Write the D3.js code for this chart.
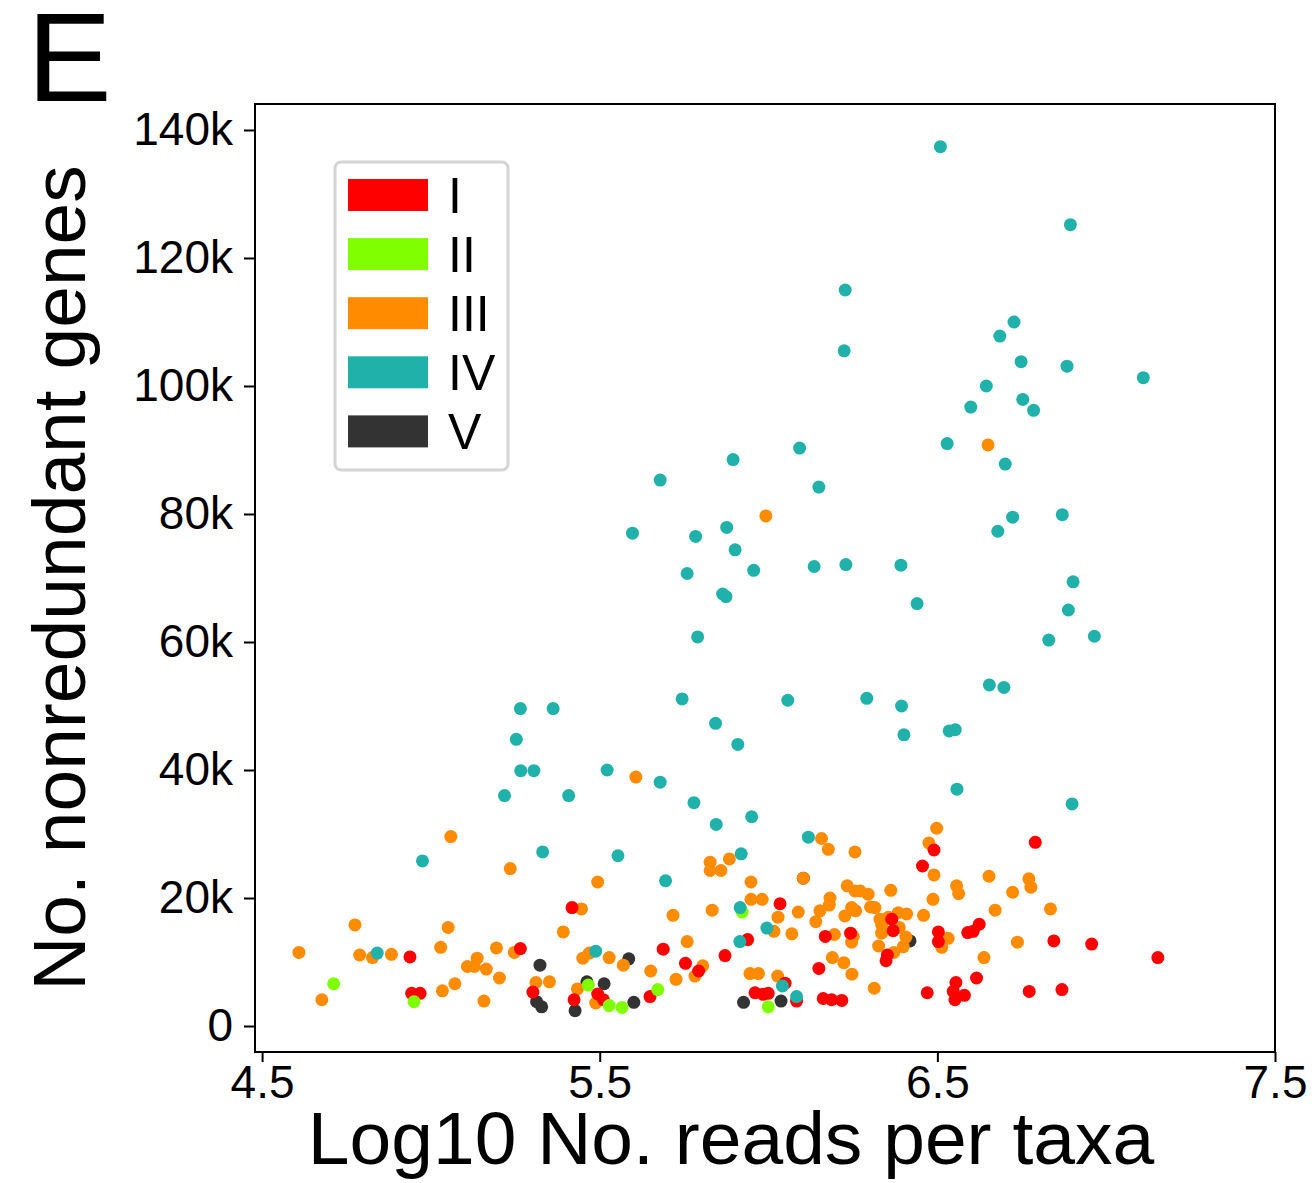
<!DOCTYPE html>
<html>
<head>
<meta charset="utf-8">
<script src="https://cdn.jsdelivr.net/npm/d3@7"></script>
<style>
  body { margin: 0; background: #fff; }
  svg text { font-family: "Liberation Sans", Arial, sans-serif; fill: #000; }
</style>
</head>
<body>
<svg id="chart" width="1316" height="1183"></svg>
<script>
// groups and colours
var groups = ["I", "II", "III", "IV", "V"];
var colors = ["#ff0000", "#7fff00", "#ff8c00", "#20b2aa", "#333333"];

// [log10 reads, nonredundant genes]
var groupI = [
  [5.418,18500],[4.938,10800],[5.265,12100],[4.943,5100],[4.968,5100],[5.302,5300],
  [5.424,4100],[5.494,5000],[5.511,4100],[6.490,27500],[6.456,25000],[6.034,19100],
  [6.365,16700],[6.369,14900],[6.168,14000],[6.243,14500],[6.352,11100],[6.348,10200],
  [6.503,14700],[6.503,13200],[5.938,13500],[5.688,12000],[5.871,11000],[5.754,9800],
  [5.793,8600],[6.149,9000],[6.049,6700],[5.649,4600],[5.960,5200],[5.984,4950],
  [5.999,5100],[6.083,3900],[6.162,4300],[6.187,4100],[6.217,4000],[6.470,5200],
  [6.790,28700],[6.590,14600],[6.606,14800],[6.624,15900],[6.845,13300],[6.957,12800],
  [7.153,10700],[6.616,7500],[6.555,6800],[6.547,5400],[6.580,4800],[6.552,4100],
  [6.772,5400],[6.869,5700]
];
var groupII = [
  [4.712,6600],[4.950,3800],[5.466,6400],[5.922,17800],[5.528,3200],[5.566,2900],
  [5.672,5700],[5.999,3000]
];
var groupIII = [
  [5.059,29600],[5.235,24600],[5.494,22500],[5.446,18300],[4.775,15800],[5.051,15400],
  [5.392,14700],[4.609,11500],[4.789,11100],[4.827,10700],[4.883,11200],[5.029,12300],
  [5.194,12200],[5.247,11500],[5.469,11400],[5.450,10600],[5.137,10600],[5.108,9300],
  [5.129,9300],[5.164,8900],[5.203,7500],[5.071,6600],[5.311,6800],[5.351,6900],
  [5.434,5800],[5.034,5500],[4.677,4100],[5.157,3900],[5.488,3600],
  [6.157,29300],[6.177,27600],[6.256,27200],[6.498,30900],[6.475,28600],[5.827,25600],
  [5.827,24300],[5.859,24300],[5.884,26100],[5.948,22500],[6.103,23100],[6.490,23600],
  [6.233,21900],[6.256,21100],[6.271,21100],[6.295,20600],[6.362,21200],[5.948,19800],
  [5.981,19800],[6.182,20000],[6.487,19800],[5.833,18100],[5.717,17300],[6.088,17800],
  [6.152,18000],[6.180,18900],[6.246,18500],[6.258,18000],[6.302,18600],[6.315,18500],
  [6.226,17200],[6.028,17000],[6.140,16300],[6.330,16700],[6.355,17000],[6.384,17700],
  [6.409,17500],[6.459,17300],[6.335,15800],[6.387,15400],[6.016,14800],[6.069,14400],
  [6.335,14500],[6.195,14300],[6.251,14000],[6.246,13100],[6.407,13900],[6.399,12400],
  [6.326,12500],[6.371,11500],[5.759,13200],[5.528,10700],[5.570,9500],[5.805,9400],
  [5.782,7800],[5.651,8600],[5.726,7300],[6.189,10700],[6.223,9900],[6.247,8100],
  [6.313,5900],[5.945,8200],[5.970,8200],[6.027,7800],[6.513,12300],
  [6.653,23400],[6.771,23000],[6.777,21700],[6.557,21900],[6.563,20700],[6.723,20900],
  [6.671,18100],[6.835,18300],[6.532,13700],[6.737,13100],[6.638,10700],
  [5.607,38900],[6.650,90800],[5.992,79700]
];
var groupIV = [
  [4.975,25800],[5.331,27200],[4.841,11400],[5.488,11700],[5.554,26600],[6.118,29500],
  [5.919,26900],[5.695,22700],[5.916,18500],[5.995,15300],[5.915,13200],[6.041,6250],
  [6.083,4600],[5.265,49600],[5.362,49600],[5.744,51100],[5.843,47300],[5.909,44000],
  [5.253,44800],[5.266,39900],[5.305,39900],[5.522,40000],[5.679,38100],[5.218,36000],
  [5.408,36000],[5.779,34900],[5.845,31500],[5.950,32700],
  [6.509,137400],[6.894,125200],[6.227,115000],[6.727,110000],[6.685,107800],[6.224,105500],
  [6.748,103800],[6.884,103100],[7.110,101300],[6.645,100000],[6.753,97900],[6.785,96200],
  [6.599,96700],[6.092,90300],[6.529,91000],[6.701,87800],[6.149,84200],[6.723,79500],
  [6.679,77300],[6.870,79900],[6.135,71800],[6.229,72100],[6.392,72000],[6.902,69400],
  [6.440,66000],[6.888,65000],[6.830,60300],[6.965,60900],[6.654,53300],[6.697,52900],
  [6.057,50900],[6.291,51200],[6.394,50000],[6.401,45500],[6.535,46100],[6.553,46300],
  [6.558,37000],[6.899,34700],
  [5.895,88500],[5.679,85300],[5.597,77000],[5.784,76500],[5.876,77900],[5.901,74400],
  [5.956,71200],[5.759,70700],[5.864,67500],[5.874,67100],[5.790,60800]
];
var groupV = [
  [5.323,9500],[5.462,6900],[5.513,6600],[5.313,3800],[5.328,3000],[5.427,2400],
  [6.103,23100],[6.419,13300],[5.586,10500],[5.601,3700],[5.926,3700],[6.037,3900]
];

// axis ticks
var xTicks = [4.5, 5.5, 6.5, 7.5];
var yTicks = [0, 20000, 40000, 60000, 80000, 100000, 120000, 140000];

var series = [groupI, groupII, groupIII, groupIV, groupV];
// overlap order as in the figure: dark first, teal last
var drawOrder = [4, 2, 0, 1, 3];

var svg = d3.select("#chart");
var plotLeft = 255, plotRight = 1275, plotTop = 104, plotBottom = 1052;

var x = d3.scaleLinear().domain([4.479, 7.5]).range([plotLeft, plotRight]);
var y = d3.scaleLinear().domain([-4060, 144060]).range([plotBottom, plotTop]);

// points
var g = svg.append("g");
drawOrder.forEach(function(i) {
    g.selectAll(null)
        .data(series[i])
        .enter().append("circle")
        .attr("cx", function(d) { return x(d[0]); })
        .attr("cy", function(d) { return y(d[1]); })
        .attr("r", 6.5)
        .attr("fill", colors[i]);
});

// frame
svg.append("rect")
    .attr("x", plotLeft).attr("y", plotTop)
    .attr("width", plotRight - plotLeft).attr("height", plotBottom - plotTop)
    .attr("fill", "none").attr("stroke", "#000").attr("stroke-width", 2);

// axes
var xAxis = svg.append("g")
    .attr("transform", "translate(0," + plotBottom + ")")
    .call(d3.axisBottom(x).tickValues(xTicks).tickFormat(d3.format(".1f"))
        .tickSize(10).tickSizeOuter(0).tickPadding(3));
var yAxis = svg.append("g")
    .attr("transform", "translate(" + plotLeft + ",0)")
    .call(d3.axisLeft(y).tickValues(yTicks)
        .tickFormat(function(d) { return d === 0 ? "0" : (d / 1000) + "k"; })
        .tickSize(11).tickSizeOuter(0).tickPadding(11));

[xAxis, yAxis].forEach(function(a) {
    a.select(".domain").remove();
    a.selectAll(".tick line").attr("stroke", "#000").attr("stroke-width", 2);
    a.selectAll(".tick text")
        .attr("fill", "#000")
        .style("font-family", "'Liberation Sans', Arial, sans-serif")
        .style("font-size", "46px");
});

// axis titles
svg.append("text")
    .attr("x", 731).attr("y", 1164)
    .attr("text-anchor", "middle")
    .style("font-size", "75px")
    .text("Log10 No. reads per taxa");

svg.append("text")
    .attr("transform", "translate(85,578) rotate(-90)")
    .attr("text-anchor", "middle")
    .style("font-size", "75px")
    .text("No. nonredundant genes");

// panel letter
svg.append("text")
    .attr("x", 27).attr("y", 101)
    .style("font-size", "127px")
    .text("E");

// legend
var legend = svg.append("g");
legend.append("rect")
    .attr("x", 335).attr("y", 162)
    .attr("width", 173).attr("height", 308)
    .attr("rx", 6)
    .attr("fill", "#fff").attr("stroke", "#d4d4d4").attr("stroke-width", 3);

var item = legend.selectAll(".item")
    .data(groups)
    .enter().append("g")
    .attr("transform", function(d, i) { return "translate(0," + (195 + i * 59.1) + ")"; });

item.append("rect")
    .attr("x", 348).attr("y", -16)
    .attr("width", 80).attr("height", 32)
    .attr("fill", function(d, i) { return colors[i]; });

item.append("text")
    .attr("x", 448).attr("y", 18)
    .style("font-size", "50px")
    .text(function(d) { return d; });
</script>
</body>
</html>
